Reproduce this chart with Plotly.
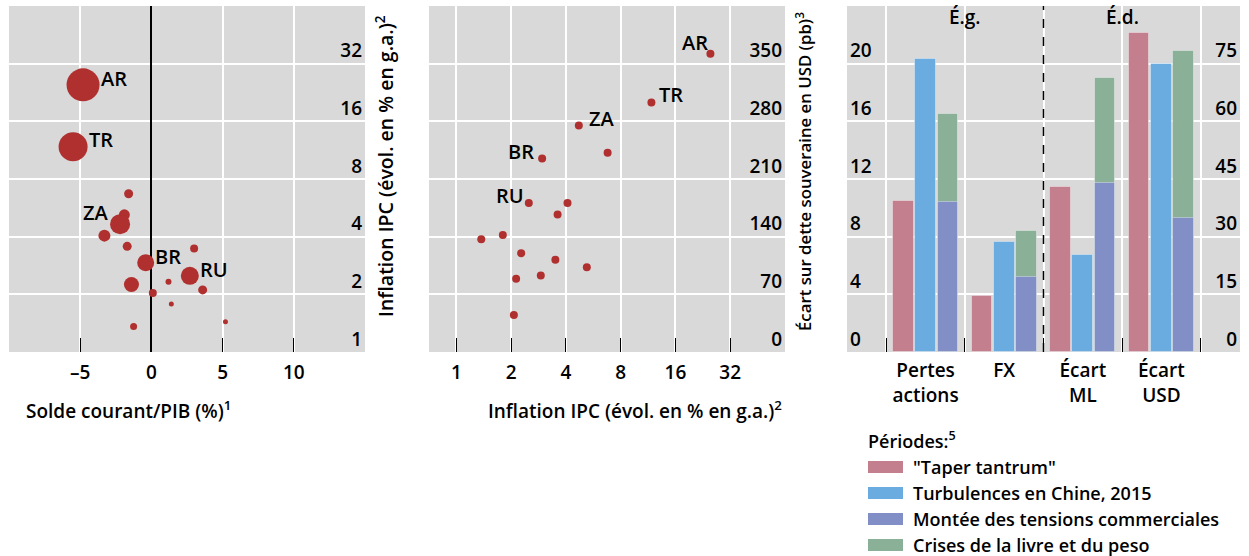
import math
import plotly.graph_objects as go

FIG_W, FIG_H = 1249, 556
FONT = "Open Sans"
WEIGHT = 600
RED = "#b0302f"

# ---------------- Data ----------------
# Panel 1: current account balance vs CPI inflation (bubble = weight)
ca_balance = [-4.8, -5.5, -1.6, -1.9, -2.2, -3.3, -1.7, -0.4, 3.0, 2.7, 1.2, -1.4, 3.6, 0.1, 1.4, 5.2, -1.25]
cpi_p1 = [24.8, 11.8, 6.7, 5.2, 4.65, 4.05, 3.56, 2.92, 3.47, 2.5, 2.33, 2.25, 2.11, 2.03, 1.78, 1.44, 1.36]
bubble_weight = [33, 29, 9, 11, 20, 12, 9, 17, 8, 18, 6, 15, 9, 8, 5, 5, 7]
country_p1 = ["AR", "TR", "", "", "ZA", "", "", "BR", "", "RU", "", "", "", "", "", "", ""]

# Panel 2: CPI inflation vs USD sovereign spread
cpi_p2 = [24.9, 11.8, 4.71, 6.78, 2.96, 2.5, 4.08, 3.6, 1.37, 1.8, 2.27, 3.5, 5.21, 2.91, 2.13, 2.07]
usd_spread = [362, 303, 275, 242, 235, 181, 181, 167, 137, 142, 120, 112, 103, 93, 89, 45]
country_p2 = ["AR", "TR", "ZA", "", "BR", "RU", "", "", "", "", "", "", "", "", "", ""]

# Panel 3: market moves by episode
measures = ["Pertes<br>actions", "FX", "Écart<br>ML", "Écart<br>USD"]
periods = ['"Taper tantrum"', "Turbulences en Chine, 2015",
           "Montée des tensions commerciales", "Crises de la livre et du peso"]
taper = [10.5, 3.9, 43.0, 83.1]
chine = [20.3, 7.6, 25.3, 75.0]
tensions = [10.4, 5.2, 44.0, 34.8]
crises = [16.5, 8.4, 71.4, 78.2]

x_ticks_p1 = [-5, 0, 5, 10]
x_ticktext_p1 = ["–5", "0", "5", "10"]
log_ticks = [1, 2, 4, 8, 16, 32]
spread_ticks = [0, 70, 140, 210, 280, 350]
left_ticks_p3 = [0, 4, 8, 12, 16, 20]
right_ticks_p3 = [0, 15, 30, 45, 60, 75]

# ---------------- Styles ----------------
period_colors = ["#c47f8f", "#6aace0", "#818fc6", "#8ab098"]
slot_offsets = [-0.283, 0.0, 0.283, 0.283]
BAR_W = 0.263

# label placement (anchor side, yshift) -- style only
lab1_style = {"AR": ("left", 6), "TR": ("left", 7), "ZA": ("right", 12), "BR": ("left", 6), "RU": ("left", 6)}
lab2_style = {"AR": ("right", 0, 11), "TR": ("left", 6, 8), "ZA": ("left", 8, 7),
              "BR": ("right", -6, 7), "RU": ("right", -3, 7)}


def px_x(p):
    return p / FIG_W


def px_y(p):
    return 1 - p / FIG_H


def fnt(size):
    return dict(family=FONT, size=size, color="black", weight=WEIGHT)


fig = go.Figure()

# Panel 1 bubbles
fig.add_trace(go.Scatter(
    x=ca_balance, y=cpi_p1, mode="markers", xaxis="x", yaxis="y",
    marker=dict(size=bubble_weight, sizemode="diameter", sizeref=1, color=RED, line=dict(width=0), opacity=1),
    showlegend=False, hoverinfo="x+y"))

# Panel 2 points
fig.add_trace(go.Scatter(
    x=cpi_p2, y=usd_spread, mode="markers", xaxis="x2", yaxis="y2",
    marker=dict(size=8, color=RED, line=dict(width=0)),
    showlegend=False, hoverinfo="x+y"))

# Panel 3 bars
all_series = [taper, chine, tensions, crises]
order = [0, 1, 3, 2]  # draw green behind purple
idx = list(range(len(measures)))
for k in order:
    vals = all_series[k]
    for part, yax in (([0, 1], "y3"), ([2, 3], "y4")):
        fig.add_trace(go.Bar(
            x=[idx[i] for i in part], y=[vals[i] for i in part],
            xaxis="x3", yaxis=yax, name=periods[k],
            offset=slot_offsets[k] - BAR_W / 2, width=BAR_W,
            marker=dict(color=period_colors[k], line=dict(color="rgba(255,255,255,0.35)", width=1)),
            showlegend=False))

tickfont = fnt(19)
ydom = [px_y(352), px_y(6)]
grid = dict(showgrid=True, gridcolor="white", gridwidth=1.5)
SHIFT = -13

fig.update_layout(
    width=FIG_W, height=FIG_H, margin=dict(l=0, r=0, t=0, b=0),
    paper_bgcolor="white", plot_bgcolor="#d9d9d9",
    font=fnt(19),
    barmode="overlay", bargap=0,
    xaxis=dict(domain=[px_x(9), px_x(365)], range=[-10, 15], tickvals=x_ticks_p1, ticktext=x_ticktext_p1,
               ticks="inside", ticklen=14, tickcolor="black", tickwidth=1.2, tickfont=tickfont,
               ticklabelstandoff=7, zeroline=True, zerolinecolor="black", zerolinewidth=1.6,
               showline=False, anchor="y", **grid),
    yaxis=dict(domain=ydom, type="log", range=[0, math.log10(64)], tickvals=log_ticks,
               ticktext=[str(v) for v in log_ticks], side="right", ticklabelposition="inside",
               ticklabelshift=SHIFT, ticks="", tickfont=tickfont, zeroline=False, anchor="x", **grid),
    xaxis2=dict(domain=[px_x(429), px_x(785)], type="log", range=[math.log10(2 ** -0.5), math.log10(64)],
                tickvals=log_ticks, ticktext=[str(v) for v in log_ticks], ticks="inside", ticklen=14,
                tickcolor="black", tickwidth=1.2, tickfont=tickfont, ticklabelstandoff=7,
                anchor="y2", zeroline=False, **grid),
    yaxis2=dict(domain=ydom, range=[0, 420], tickvals=spread_ticks, side="right",
                ticklabelposition="inside", ticklabelshift=SHIFT, ticks="", tickfont=tickfont,
                zeroline=False, anchor="x2", **grid),
    xaxis3=dict(domain=[px_x(847), px_x(1240)], range=[-1, 4], tickvals=idx, ticktext=measures,
                ticks="", showgrid=False, zeroline=False, tickfont=tickfont, ticklabelstandoff=5,
                anchor="y3",
                minor=dict(tickvals=[-0.5, 0.5, 1.5, 2.5, 3.5], ticks="inside", ticklen=14,
                           tickcolor="black", tickwidth=1.2, showgrid=True, gridcolor="white", gridwidth=1.5)),
    yaxis3=dict(domain=ydom, range=[0, 24], tickvals=left_ticks_p3, side="left",
                ticklabelposition="inside", ticklabelshift=SHIFT, ticks="", tickfont=tickfont,
                zeroline=False, anchor="x3", **grid),
    yaxis4=dict(range=[0, 90], tickvals=right_ticks_p3, side="right", overlaying="y3",
                ticklabelposition="inside", ticklabelshift=SHIFT, ticks="", tickfont=tickfont,
                showgrid=False, zeroline=False, anchor="x3"),
)

annotations = []
# country labels panel 1
for x, y, w, c in zip(ca_balance, cpi_p1, bubble_weight, country_p1):
    if not c:
        continue
    side, ysh = lab1_style[c]
    r = w / 2
    annotations.append(dict(
        x=x, y=math.log10(y), xref="x", yref="y", text=c, showarrow=False,
        xanchor="left" if side == "left" else "right",
        xshift=(r - 1) if side == "left" else -(r - 1), yshift=ysh, font=fnt(20)))
# country labels panel 2
for x, y, c in zip(cpi_p2, usd_spread, country_p2):
    if not c:
        continue
    side, xsh, ysh = lab2_style[c]
    annotations.append(dict(
        x=math.log10(x), y=y, xref="x2", yref="y2", text=c, showarrow=False,
        xanchor="left" if side == "left" else "right", xshift=xsh, yshift=ysh, font=fnt(20)))

# axis titles
annotations += [
    dict(x=px_x(24), y=px_y(410), xref="paper", yref="paper", xanchor="left", yanchor="middle",
         text="Solde courant/PIB (%)<sup>1</sup>", showarrow=False, font=fnt(19)),
    dict(x=px_x(486), y=px_y(410), xref="paper", yref="paper", xanchor="left", yanchor="middle",
         text="Inflation IPC (évol. en % en g.a.)<sup>2</sup>", showarrow=False, font=fnt(19)),
    dict(x=px_x(385), y=px_y(166), xref="paper", yref="paper", xanchor="center", yanchor="middle",
         textangle=-90, text="Inflation IPC (évol. en % en g.a.)<sup>2</sup>", showarrow=False,
         font=fnt(19.5)),
    dict(x=px_x(803), y=px_y(172), xref="paper", yref="paper", xanchor="center", yanchor="middle",
         textangle=-90, text="Écart sur dette souveraine en USD (pb)<sup>3</sup>", showarrow=False,
         font=fnt(16.8)),
    dict(x=0.5, y=px_y(17), xref="x3", yref="paper", yanchor="middle", text="É.g.", showarrow=False,
         font=fnt(19)),
    dict(x=2.5, y=px_y(17), xref="x3", yref="paper", yanchor="middle", text="É.d.", showarrow=False,
         font=fnt(19)),
    dict(x=px_x(866), y=px_y(440), xref="paper", yref="paper", xanchor="left", yanchor="middle",
         text="Périodes:<sup>5</sup>", showarrow=False, font=fnt(18)),
]

shapes = [dict(type="line", xref="x3", yref="y3 domain", x0=1.5, x1=1.5, y0=0, y1=1,
               line=dict(color="black", width=1.5, dash="dash"))]

# custom legend (wide swatches)
row_y = [467, 493, 519, 545]
for k, yc in enumerate(row_y):
    shapes.append(dict(type="rect", xref="paper", yref="paper", x0=px_x(868), x1=px_x(903),
                       y0=px_y(yc + 6), y1=px_y(yc - 6), fillcolor=period_colors[k], line=dict(width=0)))
    annotations.append(dict(x=px_x(911), y=px_y(yc), xref="paper", yref="paper", xanchor="left",
                            yanchor="middle", text=periods[k], showarrow=False, font=fnt(18)))

fig.update_layout(annotations=annotations, shapes=shapes)
fig.write_html("out.html", config={"displayModeBar": False},
               post_script="document.body.style.margin='0px';document.body.style.overflow='hidden';")
